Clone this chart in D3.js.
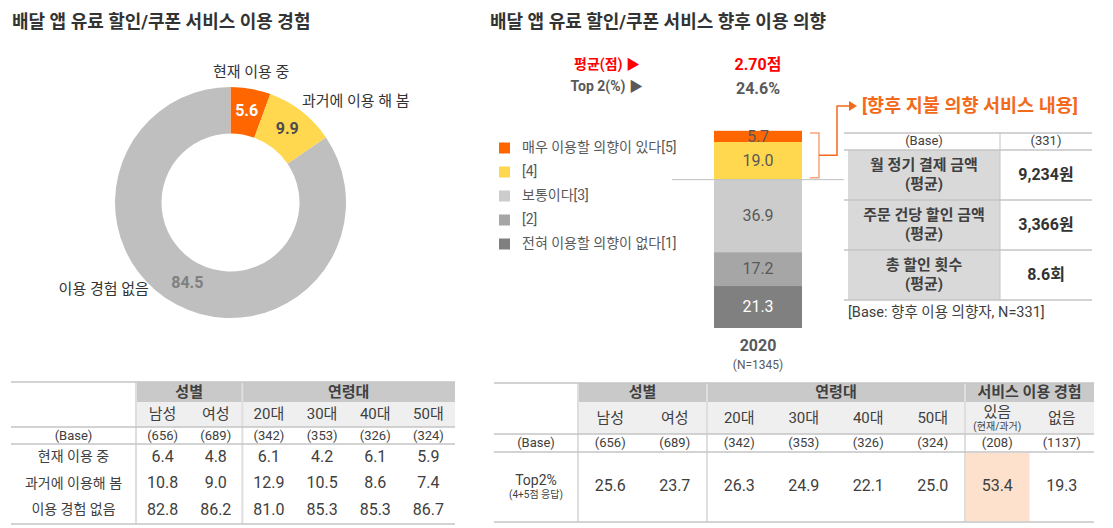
<!DOCTYPE html>
<html>
<head>
<meta charset="utf-8">
<script src="https://cdn.jsdelivr.net/npm/d3@7"></script>
<style>
  body { margin: 0; background: #fff; }
  svg { font-family: Roboto, "Noto Sans CJK KR", sans-serif; }
</style>
</head>
<body>
<div id="chart"></div>
<script>
// ---- data ----
const usageLabels = ["현재 이용 중", "과거에 이용 해 봄", "이용 경험 없음"];
const usageValues = [5.6, 9.9, 84.5];

const segCols = ["남성", "여성", "20대", "30대", "40대", "50대"];
const segBases = [656, 689, 342, 353, 326, 324];
const usageRowLabels = ["현재 이용 중", "과거에 이용해 봄", "이용 경험 없음"];
const currentUse = [6.4, 4.8, 6.1, 4.2, 6.1, 5.9];
const pastUse = [10.8, 9.0, 12.9, 10.5, 8.6, 7.4];
const neverUse = [82.8, 86.2, 81.0, 85.3, 85.3, 86.7];

const intentLabels = ["매우 이용할 의향이 있다[5]", "[4]", "보통이다[3]", "[2]", "전혀 이용할 의향이 없다[1]"];
const intentValues = [5.7, 19.0, 36.9, 17.2, 21.3];
const intentYear = "2020";
const intentN = 1345;
const avgScore = "2.70점";
const top2Score = "24.6%";

const top2Cols = ["남성", "여성", "20대", "30대", "40대", "50대", "있음", "없음"];
const top2Bases = [656, 689, 342, 353, 326, 324, 208, 1137];
const top2Values = [25.6, 23.7, 26.3, 24.9, 22.1, 25.0, 53.4, 19.3];

const payItems = ["월 정기 결제 금액", "주문 건당 할인 금액", "총 할인 횟수"];
const payValues = ["9,234원", "3,366원", "8.6회"];
const payBase = 331;

// ---- setup ----
const W = 1113, H = 528;
const ink = "#404040";
const svg = d3.select("#chart").append("svg")
    .attr("width", W)
    .attr("height", H);

svg.append("text")
    .attr("x", 12).attr("y", 23)
    .attr("dominant-baseline", "middle")
    .style("font-size", "18px").style("font-weight", "bold")
    .attr("fill", "#333")
    .text("배달 앱 유료 할인/쿠폰 서비스 이용 경험");

svg.append("text")
    .attr("x", 490).attr("y", 23)
    .attr("dominant-baseline", "middle")
    .style("font-size", "18px").style("font-weight", "bold")
    .attr("fill", "#333")
    .text("배달 앱 유료 할인/쿠폰 서비스 향후 이용 의향");

// ---- donut ----
const cx = 230.5, cy = 202.5, R = 115.5, r0 = 69;
const donutColors = ["#ff6600", "#ffd84f", "#bfbfbf"];
const labelColors = ["#fff", "#4d4d4d", "#808080"];
const pie = d3.pie().sort(null)(usageValues);
const arc = d3.arc().innerRadius(r0).outerRadius(R);
const dg = svg.append("g").attr("transform", `translate(${cx},${cy})`);

dg.selectAll("path")
    .data(pie)
    .enter().append("path")
    .attr("d", arc)
    .attr("fill", (d, i) => donutColors[i]);

dg.selectAll("text.val")
    .data(pie)
    .enter().append("text")
    .attr("class", "val")
    .attr("transform", d => `translate(${arc.centroid(d)})`)
    .attr("text-anchor", "middle")
    .attr("dominant-baseline", "middle")
    .style("font-size", "16px").style("font-weight", "bold")
    .attr("fill", (d, i) => labelColors[i])
    .text(d => d.data.toFixed(1));

// outside labels: angle tweak (deg) and radius for each slice
const outShift = [-1, -2.5, 15];
const outR = [131, 123, 120];
dg.selectAll("text.out")
    .data(pie)
    .enter().append("text")
    .attr("class", "out")
    .each(function(d, i) {
        const a = (d.startAngle + d.endAngle) / 2 + outShift[i] * Math.PI / 180;
        const x = outR[i] * Math.sin(a), y = -outR[i] * Math.cos(a);
        const s = Math.sin(a);
        d3.select(this)
            .attr("x", x).attr("y", y)
            .attr("text-anchor", Math.abs(s) < 0.3 ? "middle" : (s > 0 ? "start" : "end"));
    })
    .attr("dominant-baseline", "middle")
    .style("font-size", "15px")
    .attr("fill", "#333")
    .text((d, i) => usageLabels[i]);

// ---- table helper ----
function drawTable(cfg) {
    const g = svg.append("g");
    const x = d3.scaleBand().domain(cfg.cols).range([cfg.labelEnd, cfg.right]);
    const lineC = "#c4c4c4", vC = "#dedede";

    // header fills
    cfg.groups.forEach(gr => {
        const x0 = x(gr.cols[0]), x1 = x(gr.cols[gr.cols.length - 1]) + x.bandwidth();
        g.append("rect").attr("x", x0).attr("y", cfg.top)
            .attr("width", x1 - x0).attr("height", cfg.h1 - cfg.top)
            .attr("fill", "#c9c9c9");
        g.append("text").attr("x", (x0 + x1) / 2).attr("y", (cfg.top + cfg.h1) / 2 + 1)
            .attr("text-anchor", "middle").attr("dominant-baseline", "middle")
            .style("font-size", "15px").style("font-weight", "bold").attr("fill", ink)
            .text(gr.name);
    });
    g.append("rect").attr("x", cfg.labelEnd).attr("y", cfg.h1)
        .attr("width", cfg.right - cfg.labelEnd).attr("height", cfg.h2 - cfg.h1)
        .attr("fill", "#efefef");

    // highlight cells
    (cfg.highlight || []).forEach(c => {
        g.append("rect").attr("x", x(c)).attr("y", cfg.h3 + 1)
            .attr("width", x.bandwidth()).attr("height", cfg.bottom - cfg.h3 - 2)
            .attr("fill", "#fde1cc");
    });

    // column headers
    cfg.cols.forEach(c => {
        const sub = cfg.subHead && cfg.subHead[c];
        const xm = x(c) + x.bandwidth() / 2, ym = (cfg.h1 + cfg.h2) / 2;
        g.append("text").attr("x", xm).attr("y", sub ? ym - 5 : ym + 1)
            .attr("text-anchor", "middle").attr("dominant-baseline", "middle")
            .style("font-size", "15px").attr("fill", ink).text(c);
        if (sub) {
            g.append("text").attr("x", xm).attr("y", ym + 9)
                .attr("text-anchor", "middle").attr("dominant-baseline", "middle")
                .style("font-size", "10px").attr("fill", ink).text(sub);
        }
    });

    // base row
    const yb = (cfg.h2 + cfg.h3) / 2 + 1;
    g.append("text").attr("x", (cfg.left + cfg.labelEnd) / 2).attr("y", yb)
        .attr("text-anchor", "middle").attr("dominant-baseline", "middle")
        .style("font-size", "13px").attr("fill", ink).text("(Base)");
    cfg.cols.forEach((c, i) => {
        g.append("text").attr("x", x(c) + x.bandwidth() / 2).attr("y", yb)
            .attr("text-anchor", "middle").attr("dominant-baseline", "middle")
            .style("font-size", "13px").attr("fill", ink).text(`(${cfg.bases[i]})`);
    });

    // data rows
    const y = d3.scaleBand().domain(cfg.rows.map((r, i) => i)).range([cfg.h3, cfg.bottom]);
    cfg.rows.forEach((r, ri) => {
        const ym = y(ri) + y.bandwidth() / 2;
        if (r.sub) {
            g.append("text").attr("x", (cfg.left + cfg.labelEnd) / 2).attr("y", ym - 6)
                .attr("text-anchor", "middle").attr("dominant-baseline", "middle")
                .style("font-size", "14px").attr("fill", ink).text(r.label);
            g.append("text").attr("x", (cfg.left + cfg.labelEnd) / 2).attr("y", ym + 8)
                .attr("text-anchor", "middle").attr("dominant-baseline", "middle")
                .style("font-size", "10px").attr("fill", ink).text(r.sub);
        } else {
            g.append("text").attr("x", (cfg.left + cfg.labelEnd) / 2).attr("y", ym)
                .attr("text-anchor", "middle").attr("dominant-baseline", "middle")
                .style("font-size", "14px").attr("fill", ink).text(r.label);
        }
        r.values.forEach((v, i) => {
            g.append("text").attr("x", x(cfg.cols[i]) + x.bandwidth() / 2).attr("y", ym)
                .attr("text-anchor", "middle").attr("dominant-baseline", "middle")
                .style("font-size", "16px").attr("fill", ink).text(v.toFixed(1));
        });
    });

    // vertical separators
    const vx = [cfg.labelEnd].concat(cfg.groups.slice(1).map(gr => x(gr.cols[0])));
    vx.forEach(v => {
        g.append("line").attr("x1", v).attr("x2", v)
            .attr("y1", cfg.top).attr("y2", cfg.bottom)
            .attr("stroke", vC).attr("stroke-width", 2);
    });
    // horizontal lines
    [cfg.top, cfg.h2, cfg.h3, cfg.bottom].forEach(hy => {
        g.append("line").attr("x1", cfg.left).attr("x2", cfg.right)
            .attr("y1", hy).attr("y2", hy)
            .attr("stroke", lineC).attr("stroke-width", 1.5);
    });
}

drawTable({
    left: 11, labelEnd: 136, right: 455,
    top: 382, h1: 402, h2: 427, h3: 444, bottom: 524,
    cols: segCols, bases: segBases,
    groups: [{name: "성별", cols: segCols.slice(0, 2)}, {name: "연령대", cols: segCols.slice(2, 6)}],
    rows: [
        {label: usageRowLabels[0], values: currentUse},
        {label: usageRowLabels[1], values: pastUse},
        {label: usageRowLabels[2], values: neverUse}
    ]
});

drawTable({
    left: 494, labelEnd: 578, right: 1094,
    top: 383, h1: 402, h2: 434, h3: 452, bottom: 522,
    cols: top2Cols, bases: top2Bases,
    groups: [
        {name: "성별", cols: top2Cols.slice(0, 2)},
        {name: "연령대", cols: top2Cols.slice(2, 6)},
        {name: "서비스 이용 경험", cols: top2Cols.slice(6, 8)}
    ],
    subHead: {"있음": "(현재/과거)"},
    highlight: ["있음"],
    rows: [{label: "Top2%", sub: "(4+5점 응답)", values: top2Values}]
});

// ---- stacked bar ----
const barColors = ["#ff6600", "#ffd84f", "#cccccc", "#a6a6a6", "#808080"];
const barText = ["#595959", "#595959", "#595959", "#595959", "#fff"];
const xb = d3.scaleBand().domain([intentYear]).range([714, 802]);
const yb = d3.scaleLinear().domain([0, 100]).range([328, 131]);
// stack from bottom ([1]) upward
const tops = [];
let acc = 0;
for (let i = intentValues.length - 1; i >= 0; i--) {
    tops[i] = {y0: acc, y1: acc + intentValues[i]};
    acc += intentValues[i];
}
const bg = svg.append("g");
bg.selectAll("rect")
    .data(intentValues)
    .enter().append("rect")
    .attr("x", xb(intentYear))
    .attr("width", xb.bandwidth())
    .attr("y", (d, i) => yb(tops[i].y1))
    .attr("height", (d, i) => yb(tops[i].y0) - yb(tops[i].y1))
    .attr("fill", (d, i) => barColors[i]);
bg.selectAll("text")
    .data(intentValues)
    .enter().append("text")
    .attr("x", xb(intentYear) + xb.bandwidth() / 2)
    .attr("y", (d, i) => yb((tops[i].y0 + tops[i].y1) / 2) + 1)
    .attr("text-anchor", "middle").attr("dominant-baseline", "middle")
    .style("font-size", "16px")
    .attr("fill", (d, i) => barText[i])
    .text(d => d.toFixed(1));

const barMid = xb(intentYear) + xb.bandwidth() / 2;
svg.append("text").attr("x", barMid).attr("y", 347)
    .attr("text-anchor", "middle").attr("dominant-baseline", "middle")
    .style("font-size", "16px").style("font-weight", "bold").attr("fill", "#595959")
    .text(intentYear);
svg.append("text").attr("x", barMid).attr("y", 366)
    .attr("text-anchor", "middle").attr("dominant-baseline", "middle")
    .style("font-size", "12px").attr("fill", "#595959")
    .text(`(N=${intentN})`);

// top-2 divider line
const divY = yb(100 - intentValues[0] - intentValues[1]);
svg.append("line")
    .attr("x1", 672).attr("x2", 844)
    .attr("y1", divY).attr("y2", divY)
    .attr("stroke", "#bfbfbf").attr("stroke-width", 1);

// summary
svg.append("text").attr("x", 640).attr("y", 65)
    .attr("text-anchor", "end").attr("dominant-baseline", "middle")
    .style("font-size", "14px").style("font-weight", "bold").attr("fill", "#ff0000")
    .text("평균(점) ▶");
svg.append("text").attr("x", 643).attr("y", 87)
    .attr("text-anchor", "end").attr("dominant-baseline", "middle")
    .style("font-size", "14px").style("font-weight", "bold").attr("fill", "#595959")
    .text("Top 2(%) ▶");
svg.append("text").attr("x", barMid).attr("y", 66)
    .attr("text-anchor", "middle").attr("dominant-baseline", "middle")
    .style("font-size", "16px").style("font-weight", "bold").attr("fill", "#ff0000")
    .text(avgScore);
svg.append("text").attr("x", barMid).attr("y", 90)
    .attr("text-anchor", "middle").attr("dominant-baseline", "middle")
    .style("font-size", "16px").style("font-weight", "bold").attr("fill", "#595959")
    .text(top2Score);

// legend
const lg = svg.append("g");
intentLabels.forEach((l, i) => {
    const ly = 148 + i * 24;
    lg.append("rect").attr("x", 499).attr("y", ly - 5.5)
        .attr("width", 11).attr("height", 11).attr("fill", barColors[i]);
    lg.append("text").attr("x", 522).attr("y", ly)
        .attr("dominant-baseline", "middle")
        .style("font-size", "14px").attr("fill", "#595959").text(l);
});

// bracket + arrow
const bTop = yb(100) + 2, bBot = divY - 2;
svg.append("path")
    .attr("d", `M810,${bTop}H819V${bBot}H810`)
    .attr("fill", "none").attr("stroke", "#f7a37c").attr("stroke-width", 1.5);
svg.append("path")
    .attr("d", `M819,${(bTop + bBot) / 2}H837V106H850`)
    .attr("fill", "none").attr("stroke", "#f26a1b").attr("stroke-width", 1.5);
svg.append("path")
    .attr("d", "M849,101L857,106L849,111Z")
    .attr("fill", "#f26a1b");
svg.append("text").attr("x", 862).attr("y", 107)
    .attr("dominant-baseline", "middle")
    .style("font-size", "18.5px").style("font-weight", "bold").attr("fill", "#f26a1b")
    .text("[향후 지불 의향 서비스 내용]");

// detail table
const tL = 848, tM = 1000, tR = 1092;
const ty = d3.scaleBand().domain(payItems).range([150, 300]);
const tg = svg.append("g");
payItems.forEach((p, i) => {
    tg.append("rect").attr("x", tL).attr("y", ty(p))
        .attr("width", tM - tL).attr("height", ty.bandwidth())
        .attr("fill", "#d9d9d9");
    const ym = ty(p) + ty.bandwidth() / 2;
    tg.append("text").attr("x", (tL + tM) / 2).attr("y", ym - 9)
        .attr("text-anchor", "middle").attr("dominant-baseline", "middle")
        .style("font-size", "15px").style("font-weight", "bold").attr("fill", ink).text(p);
    tg.append("text").attr("x", (tL + tM) / 2).attr("y", ym + 10)
        .attr("text-anchor", "middle").attr("dominant-baseline", "middle")
        .style("font-size", "15px").style("font-weight", "bold").attr("fill", ink).text("(평균)");
    tg.append("text").attr("x", (tM + tR) / 2).attr("y", ym + 1)
        .attr("text-anchor", "middle").attr("dominant-baseline", "middle")
        .style("font-size", "16px").style("font-weight", "bold").attr("fill", "#333").text(payValues[i]);
});
tg.append("text").attr("x", (tL + tM) / 2).attr("y", 142)
    .attr("text-anchor", "middle").attr("dominant-baseline", "middle")
    .style("font-size", "13px").attr("fill", ink).text("(Base)");
tg.append("text").attr("x", (tM + tR) / 2).attr("y", 142)
    .attr("text-anchor", "middle").attr("dominant-baseline", "middle")
    .style("font-size", "13px").attr("fill", ink).text(`(${payBase})`);
[133, 150].concat(payItems.map(p => ty(p) + ty.bandwidth())).forEach(hy => {
    tg.append("line").attr("x1", tL - 4).attr("x2", tR)
        .attr("y1", hy).attr("y2", hy)
        .attr("stroke", "#c4c4c4").attr("stroke-width", 1.5);
});
tg.append("line").attr("x1", tM).attr("x2", tM).attr("y1", 133).attr("y2", 300)
    .attr("stroke", "#c4c4c4").attr("stroke-width", 1);
tg.append("text").attr("x", tL).attr("y", 313)
    .attr("dominant-baseline", "middle")
    .style("font-size", "14.5px").attr("fill", ink)
    .text(`[Base: 향후 이용 의향자, N=${payBase}]`);
</script>
</body>
</html>
